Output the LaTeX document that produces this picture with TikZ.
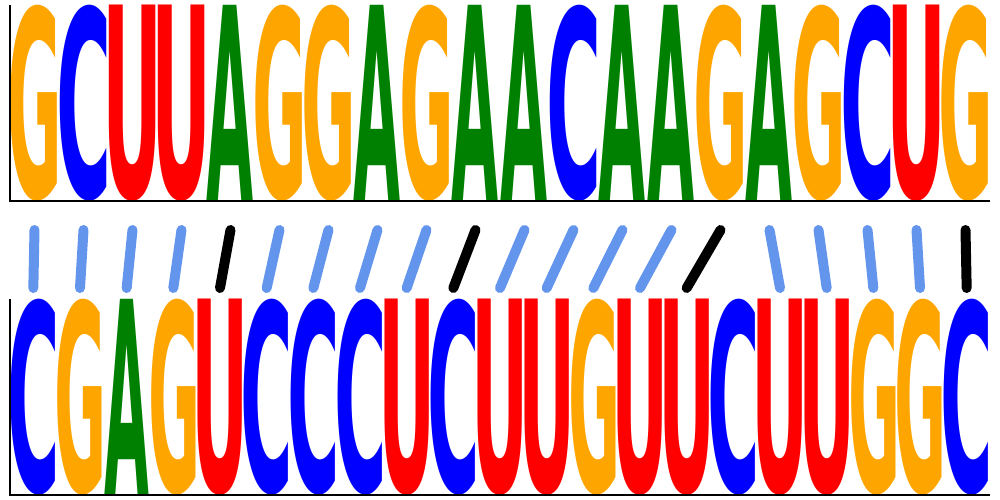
\documentclass[tikz,border=0pt]{standalone}
\usepackage{fontspec}
\usepackage{graphicx}
\newfontfamily\logofont{DejaVu Sans}
\definecolor{lgA}{HTML}{008000}
\definecolor{lgC}{HTML}{0000FF}
\definecolor{lgG}{HTML}{FFA500}
\definecolor{lgU}{HTML}{FF0000}
\definecolor{pairblue}{HTML}{6495ED}
\newcount\lgglyph
\newdimen\lgL \newdimen\lgR \newdimen\lgT \newdimen\lgB
\newbox\lgbox
\newcommand\lgletter[3]{%
  \begingroup\logofont\bfseries
  \lgglyph=\XeTeXcharglyph`#1\relax
  \lgL=\XeTeXglyphbounds1 \lgglyph
  \lgT=\XeTeXglyphbounds2 \lgglyph
  \lgR=\XeTeXglyphbounds3 \lgglyph
  \lgB=\XeTeXglyphbounds4 \lgglyph
  \ifdim\lgB<0pt \lgB=-\lgB\fi
  \setbox\lgbox=\hbox{\kern-\lgL #1\kern-\lgR}%
  \ht\lgbox=\lgT \dp\lgbox=\lgB
  \resizebox*{#2}{#3}{\box\lgbox}%
  \endgroup}
\tikzset{
  letterbox/.style={anchor=south, inner sep=0pt, outer sep=0pt},
  axisline/.style={draw=black, line width=1.3pt},
  pairline/.style={line width=10pt, line cap=round, draw=pairblue},
  pairdark/.style={pairline, draw=black}
}
\begin{document}
\begin{tikzpicture}[x=1pt,y=-1pt]
\useasboundingbox (0,0) rectangle (1000,500);
% top row
\foreach \ch [count=\i from 0] in {G,C,U,U,A,G,G,A,G,A,A,C,A,A,G,A,G,C,U,G} {
  \node[letterbox, text=lg\ch] (T\i) at ({10+49*(\i+0.5)},201)
    {\expandafter\lgletter\expandafter{\ch}{46.5pt}{196pt}};
  \coordinate (t\i) at ({10+49*(\i+0.5)},230);
}
% bottom row
\foreach \ch [count=\i from 0] in {C,G,A,G,U,C,C,C,U,C,U,U,G,U,U,C,U,U,G,G,C} {
  \node[letterbox, text=lg\ch] (B\i) at ({10+(980/21)*(\i+0.5)},495)
    {\expandafter\lgletter\expandafter{\ch}{44.3pt}{196pt}};
  \coordinate (b\i) at ({10+(980/21)*(\i+0.5)},288);
}
% axes
\draw[axisline] (10,5) -- (10,201) -- (990,201);
\draw[axisline] (10,299) -- (10,495) -- (990,495);
% pair lines
\foreach \a/\b in {0/0,1/1,2/2,3/3,5/5,6/6,7/7,8/8,10/10,11/11,12/12,13/13,15/16,16/17,17/18,18/19}
  \draw[pairline] (t\a) -- (b\b);
\foreach \a/\b in {4/4,9/9,14/14,19/20}
  \draw[pairdark] (t\a) -- (b\b);
\end{tikzpicture}
\end{document}
